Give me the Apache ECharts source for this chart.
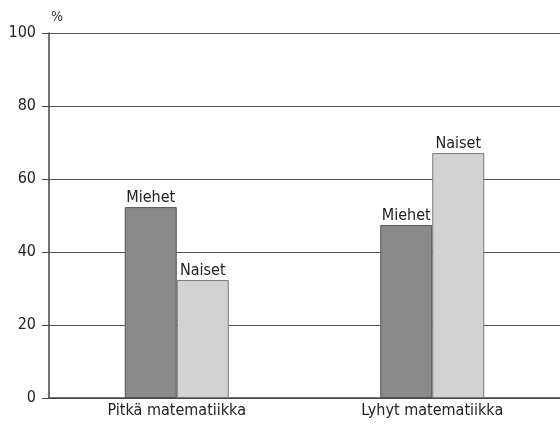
<!DOCTYPE html>
<html><head><meta charset="utf-8">
<script src="https://cdn.jsdelivr.net/npm/echarts@6/dist/echarts.min.js"></script>
<style>html,body{margin:0;padding:0;background:#fff}#c{width:560px;height:424px}</style>
</head><body><div id="c"></div>
<script>
const categories = ['Pitkä matematiikka', 'Lyhyt matematiikka'];
const miehet = [52.3, 47.4];
const naiset = [32.3, 67.1];
const seriesNames = ['Miehet', 'Naiset'];
const yTicks = [0, 20, 40, 60, 80, 100];

const font = '"DejaVu Sans Condensed", "Liberation Sans Narrow", sans-serif';
const chart = echarts.init(document.getElementById('c'));
const lbl = {show: true, position: 'top', color: '#222', fontFamily: font, fontSize: 16, distance: 1};
chart.setOption({
  animation: false,
  grid: {left: 49, right: -3, top: 33, bottom: 26, containLabel: false},
  xAxis: {
    type: 'category', data: categories,
    axisLine: {show: true, lineStyle: {color: '#444', width: 1.5}},
    axisTick: {show: false},
    axisLabel: {color: '#222', fontFamily: font, fontSize: 16, margin: 5}
  },
  yAxis: {
    type: 'value', min: 0, max: 100, interval: 20,
    name: '%', nameLocation: 'end', nameGap: 9,
    nameTextStyle: {color: '#333', fontFamily: font, fontSize: 14, align: 'left', padding: [0, 0, 0, 2]},
    axisLine: {show: true, lineStyle: {color: '#444', width: 1.5}},
    axisTick: {show: true, length: 7, lineStyle: {color: '#444'}},
    axisLabel: {color: '#222', fontFamily: font, fontSize: 16, margin: 13,
      formatter: v => yTicks.includes(v) ? String(v) : ''},
    splitLine: {show: true, lineStyle: {color: '#555', width: 1}}
  },
  series: [
    {name: seriesNames[0], type: 'bar', data: miehet, barWidth: 52, barGap: '0%',
     itemStyle: {color: '#8a8a8a', borderColor: '#555', borderWidth: 1},
     label: Object.assign({formatter: seriesNames[0]}, lbl)},
    {name: seriesNames[1], type: 'bar', data: naiset, barWidth: 52, barGap: '0%',
     itemStyle: {color: '#d2d2d2', borderColor: '#777', borderWidth: 1},
     label: Object.assign({formatter: seriesNames[1]}, lbl)}
  ]
});
</script></body></html>
